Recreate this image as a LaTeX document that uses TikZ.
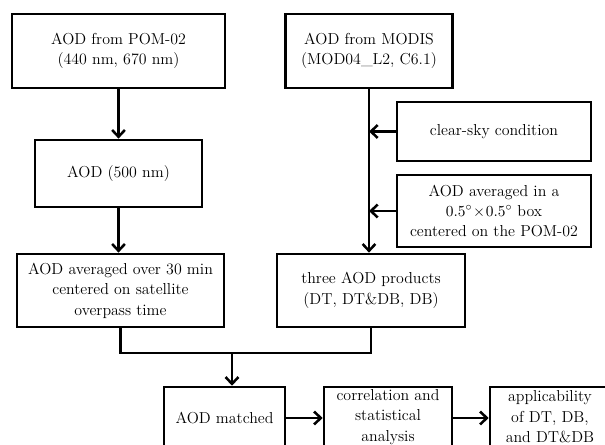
\documentclass[tikz,border=0pt]{standalone}
\usepackage{amsmath,amssymb}
\usepackage{tikz}
\usetikzlibrary{arrows.meta, positioning, calc}

\begin{document}
\begin{tikzpicture}[x=0.025cm, y=-0.025cm,
    box/.style={draw, line width=1.8pt, align=center, inner sep=2pt,
      font=\fontsize{11.3}{14.5}\selectfont},
    txt/.style={align=center, inner sep=0pt, font=\fontsize{11.3}{14.5}\selectfont},
    arr/.style={line width=1.8pt, -{Straight Barb[length=1.7mm, width=3.2mm, line width=1.8pt]}},
    link/.style={line width=1.8pt}]
  \useasboundingbox (0,0) rectangle (605,445);
  \clip (0,0) rectangle (605,445);
  % left column: ground-based photometer
  \node[box, minimum width=5.33cm, minimum height=1.85cm] (pom) at (118.5,51)
    {AOD from POM-02\\(440 nm, 670 nm)};
  \node[box, minimum width=4.18cm, minimum height=1.68cm] (aod500) at (118.5,173.5)
    {AOD (500 nm)};
  \node[box, minimum width=5.18cm, minimum height=1.83cm] (avgtime) at (120.5,290.5)
    {AOD averaged over 30 min\\centered on satellite\\overpass time};
  % right column: satellite retrieval
  \node[box, minimum width=4.18cm, minimum height=1.85cm] (modis) at (369,51)
    {AOD from MODIS\\(MOD04\_L2, C6.1)};
  \node[box, minimum width=4.85cm, minimum height=1.48cm] (clear) at (494,131.5)
    {clear-sky condition};
  \node[box, minimum width=4.85cm, minimum height=1.8cm] (avgbox) at (494,211)
    {AOD averaged in a\\$0.5^\circ\!\times\!0.5^\circ$ box\\centered on the POM-02};
  \node[box, minimum width=4.7cm, minimum height=1.83cm] (three) at (371,290.5)
    {three AOD products\\(DT, DT\&DB, DB)};
  % bottom row
  \node[box, minimum width=3.03cm, minimum height=1.55cm] (matched) at (224.5,418)
    {AOD matched};
  \node[draw, line width=1.8pt, minimum width=3.2cm, minimum height=1.55cm] (corr) at (388,418) {};
  \node[txt] (corrtxt) at ([yshift=0.03cm]corr.center) {correlation and\\statistical\\analysis};
  \node[draw, line width=1.8pt, minimum width=3.0cm, minimum height=1.55cm] (appl) at (550,418) {};
  \node[txt] (appltxt) at ([yshift=0.03cm]appl.center) {applicability\\of DT, DB,\\and DT\&DB};
  \coordinate (join) at (232,353);
  % connectors
  \draw[arr] (pom.south) -- (pom.south |- aod500.north);
  \draw[arr] (aod500.south) -- (aod500.south |- avgtime.north);
  \draw[arr] (modis.south) -- (modis.south |- three.north);
  \draw[arr] (clear.west) -- (clear.west -| modis.south);
  \draw[arr] (avgbox.west) -- (avgbox.west -| modis.south);
  \draw[link] (avgtime.south) |- (join) -| (three.south);
  \draw[arr] (join) -- (join |- matched.north);
  \draw[arr] (matched.east) -- (corr.west);
  \draw[arr] (corr.east) -- (appl.west);
\end{tikzpicture}
\end{document}
